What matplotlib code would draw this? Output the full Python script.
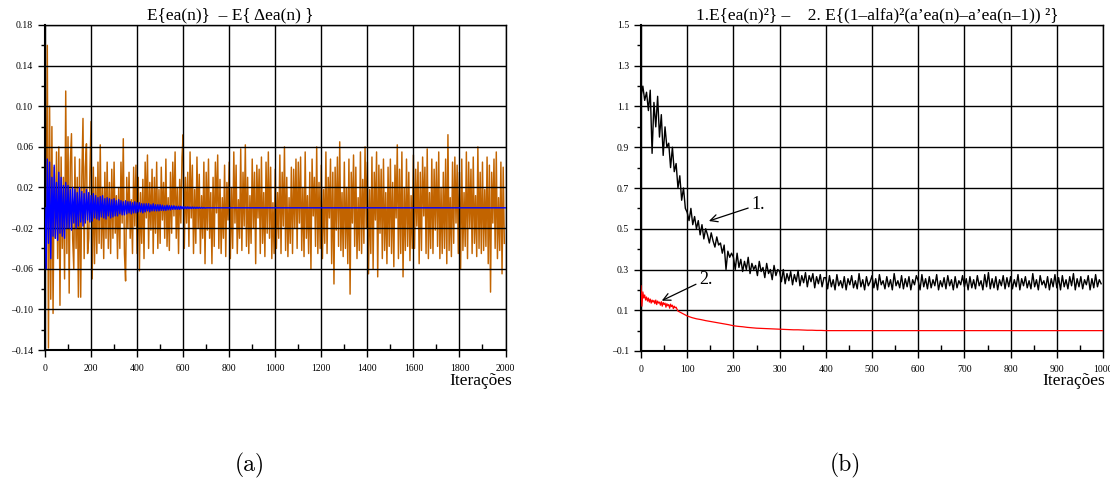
import numpy as np
import matplotlib
matplotlib.use("Agg")
import matplotlib.pyplot as plt
from matplotlib.ticker import MultipleLocator, FuncFormatter

# ---------------- data ----------------
# (a) E{Δea(n)}: one sample every 5 iterations, values in units of 1e-3
delta_step = 5
delta_ea = [
    150, -60, 160, -138, 100, -90, 80, -104, 40, -30, 55, -50, 60, -96, 50, -40, 30, -70, 115, -45,
    70, -84, 45, 73, -30, -60, 50, -40, 30, -88, 48, -88, 30, 88, -50, 40, 63, -45, -30, 35,
    85, -70, 40, -55, 30, -45, 45, -35, 62, -40, 20, -50, 35, -30, 45, -40, 25, -45, 38, -30,
    45, -25, 12, -50, 20, -40, 45, -15, 68, -45, -72, 30, -20, 35, -30, 8, -45, 40, -18, 42,
    -45, 30, -62, 15, -35, 28, -50, 45, -10, 52, -40, 25, -22, 38, -45, 30, -25, 45, -40, 18,
    -35, 40, -12, 25, -30, 48, -38, 10, -42, 35, -25, 45, -8, 55, -30, 20, -45, 28, -15, 50,
    72, -40, 30, -15, 35, -38, 55, -10, 42, -45, 18, -35, 50, -20, 33, -45, 12, -30, 45, -55,
    35, -22, 48, -30, 15, -55, 30, -38, 45, -5, 52, -40, 28, -45, 10, -30, 42, -48, 25, -12,
    45, -50, 20, -40, 55, -15, 42, -45, 8, -30, 58, -42, 35, -18, 62, -38, 30, -45, 12, -35,
    48, -20, 35, -55, 42, -10, 38, -45, 50, -35, 15, -48, 45, -25, 55, -30, 40, -50, 5, -45,
    38, -40, 15, -30, 52, -45, 35, -18, 60, -42, 30, -48, 10, -35, 40, -45, 38, -20, 48, -40,
    45, -15, 50, -42, 20, -48, 55, -30, 12, -45, 35, -60, 48, -8, 30, -38, 60, -45, 25, -40,
    42, -50, 18, -35, 55, -45, 30, -10, 48, -55, 35, -75, 40, -22, 50, -38, 65, -42, 15, -48,
    45, -40, 20, -55, 48, -85, 35, -15, 52, -38, 40, -50, 10, -42, 55, -45, 28, -35, 60, -20,
    45, -65, 18, -45, 50, -60, 35, -12, 55, -68, 42, -25, 38, -50, 48, -42, 15, -55, 40, -38,
    48, -45, 25, -58, 42, -10, 62, -50, 38, -45, 55, -68, 20, -42, 48, -38, 35, -52, 12, -40,
    52, -40, 38, -18, 45, -55, 35, -42, 50, -8, 40, -45, 58, -50, 15, -40, 48, -45, 38, -22,
    45, -38, 55, -50, 20, -45, 35, -40, 48, -55, 72, -42, 10, -48, 45, -35, 50, -15, 42, -45,
    35, -60, 48, -42, 15, -38, 55, -50, 45, -20, 38, -45, 50, -35, 12, -48, 60, -40, 35, -45,
    45, -42, 18, -38, 50, -55, 42, -83, 35, -15, 48, -40, 55, -50, 10, -42, 45, -65, 40, -35,
]

# (a) E{ea(n)}: transient every 5 iterations (units of 1e-3), then settled value
ea_step = 5
ea_transient = [
    0, -60, 48, -35, 45, -50, 30, -28, 42, -30, 25, -32, 35, -25, 30, -28, 22, -30, 25, -20,
    22, -20, 18, -22, 20, -15, 18, -20, 15, -18, 20, -14, 16, -18, 14, -15, 18, -12, 15, -14,
    12, -13, 14, -10, 12, -11, 10, -12, 11, -9, 12, -10, 9, -11, 10, -8, 9, -10, 8, -9,
    9, -8, 7, -8, 8, -6, 7, -7, 6, -7, 7, -6, 6, -5, 6, -6, 5, -5, 6, -5,
    5, -4, 5, -4, 4, -5, 4, -4, 4, -3, 4, -4, 3, -3, 4, -3, 3, -3, 3, -3,
    3, -2.5, 2.5, -2.5, 2, -2.5, 2.5, -2, 2, -2, 2, -1.5, 2, -1.5, 1.5, -1.5, 1.5, -1.5, 1.5, -1,
    1.2, -1, 1, -1, 1, -0.8, 0.8, -0.8, 0.8, -0.6, 0.6, -0.6, 0.6, -0.5, 0.5, -0.4, 0.4, -0.4, 0.3, -0.3,
]
ea_tail_n = [700, 2000]
ea_tail = [0.0, 0.0]

# (b) curve 1: E{ea(n)^2}, one sample every 4 iterations (units of 1e-3)
mse_step = 4
mse_ea = [
    1150, 1200, 1130, 1170, 1080, 1180, 870, 1120, 1000, 1150, 950, 1060, 860, 1000, 900, 920, 800, 900, 780, 820, 700, 760, 640, 700, 600,
    580, 540, 600, 520, 560, 500, 540, 470, 520, 450, 500, 470, 430, 480, 440, 410, 460, 420, 430, 380, 420, 300, 390, 360, 380,
    360, 300, 380, 310, 350, 290, 340, 300, 360, 280, 330, 300, 320, 270, 340, 290, 310, 260, 330, 280, 300, 250, 320, 270, 300,
    290, 240, 300, 230, 280, 245, 290, 225, 275, 240, 295, 220, 270, 235, 285, 215, 270, 240, 280, 210, 265, 230, 275, 215, 260,
    260, 205, 270, 215, 250, 200, 275, 220, 245, 210, 265, 200, 255, 225, 270, 210, 245, 205, 280, 215, 250, 200, 265, 220, 240,
    270, 210, 255, 200, 275, 225, 245, 205, 265, 215, 250, 200, 280, 220, 245, 210, 270, 205, 255, 215, 265, 200, 250, 225, 270,
    245, 200, 275, 215, 255, 205, 265, 210, 250, 220, 275, 200, 245, 215, 260, 205, 270, 220, 250, 200, 265, 210, 245, 225, 270,
    215, 255, 200, 265, 210, 250, 205, 270, 220, 245, 200, 275, 215, 285, 205, 255, 210, 265, 200, 250, 220, 270, 205, 260, 215,
    265, 205, 250, 215, 275, 200, 255, 220, 265, 210, 245, 205, 280, 215, 250, 200, 270, 225, 245, 210, 265, 200, 255, 215, 275,
    210, 260, 200, 270, 215, 250, 205, 265, 220, 280, 200, 255, 215, 265, 205, 250, 225, 270, 200, 255, 210, 275, 215, 250, 230,
]

# (b) curve 2: E{(1-alfa)^2 (a'ea(n) - a'ea(n-1))^2}  (units of 1e-3)
diff_early_n = list(range(0, 80, 2))
diff_early = [
    220, 120, 190, 160, 175, 150, 165, 145, 160, 140, 155, 135, 150, 140, 148, 132, 150, 128, 145, 135,
    140, 125, 142, 120, 138, 128, 135, 115, 132, 122, 128, 110, 130, 118, 125, 108, 120, 112, 115, 105,
]
diff_late_n = list(range(80, 400, 10)) + [400, 1000]
diff_late = [
    96, 84, 72, 64, 58, 54, 49, 45, 41, 37, 33, 29, 24, 21, 19, 16,
    14, 12, 11, 10, 9, 8, 7, 6, 5, 4, 4, 3, 2, 2, 1, 1, 0, 0,
]

ylim_a, yticks_a = (-0.14, 0.18), [-0.14, -0.10, -0.06, -0.02, 0.02, 0.06, 0.10, 0.14, 0.18]
ylim_b, yticks_b = (-0.1, 1.5), [-0.1, 0.1, 0.3, 0.5, 0.7, 0.9, 1.1, 1.3, 1.5]

# ---------------- figure ----------------
plt.rcParams["font.family"] = ["Liberation Serif", "DejaVu Serif"]
fig = plt.figure(figsize=(11.10, 4.82), dpi=100)
ax_a = fig.add_axes([45 / 1110, 1 - 350 / 482, 460.5 / 1110, 325 / 482])
ax_b = fig.add_axes([641 / 1110, 1 - 351 / 482, 462 / 1110, 326 / 482])

ORANGE = "#c26400"


def dash_minus(fmt):
    return FuncFormatter(lambda v, p: (fmt % v).replace("-", "\u2013"))


def style(ax, xlim, xmajor, ylim, yticks, fmt):
    ax.set_xlim(*xlim)
    ax.set_ylim(*ylim)
    ax.xaxis.set_major_locator(MultipleLocator(xmajor))
    ax.xaxis.set_minor_locator(MultipleLocator(xmajor / 2))
    ax.set_yticks(yticks)
    ax.yaxis.set_minor_locator(MultipleLocator((yticks[1] - yticks[0]) / 2))
    ax.yaxis.set_major_formatter(dash_minus(fmt))
    ax.grid(True, which="major", color="black", linewidth=1.0)
    ax.tick_params(which="major", direction="out", length=5, width=1, labelsize=7,
                   top=False, right=False)
    ax.tick_params(axis="x", which="major", pad=5)
    ax.tick_params(axis="x", which="minor", direction="in", length=4, width=1,
                   top=False, bottom=True)
    ax.tick_params(axis="y", which="minor", direction="out", length=3, width=1,
                   left=True, right=False)
    for s in ax.spines.values():
        s.set_linewidth(1.0)
        s.set_color("black")
    ax.spines["left"].set_linewidth(1.5)
    ax.spines["bottom"].set_linewidth(1.5)
    ax.set_axisbelow(False)


# (a)
n_delta = np.arange(len(delta_ea)) * delta_step
ax_a.plot(n_delta, np.array(delta_ea) * 1e-3, color=ORANGE, linewidth=1.05, zorder=2)
n_ea = np.concatenate([np.arange(len(ea_transient)) * ea_step, ea_tail_n])
v_ea = np.concatenate([np.array(ea_transient) * 1e-3, ea_tail])
ax_a.plot(n_ea, v_ea, color="#0000ff", linewidth=1.0, zorder=3)
style(ax_a, (0, 2000), 200, ylim_a, yticks_a, "%.2f")
ax_a.text((230 - 45) / 460.5, 1 + 10 / 325, "E{ea(n)}  \u2013 E{ \u0394ea(n) }",
          transform=ax_a.transAxes, ha="center", va="center", fontsize=12.5)
ax_a.text((512 - 45) / 460.5, -31 / 325, "Itera\u00e7\u00f5es", transform=ax_a.transAxes,
          ha="right", va="center", fontsize=12.5)

# (b)
n_mse = np.arange(len(mse_ea)) * mse_step
ax_b.plot(n_mse, np.array(mse_ea) * 1e-3, color="black", linewidth=1.0, zorder=3)
n_diff = np.concatenate([diff_early_n, diff_late_n])
v_diff = np.concatenate([diff_early, diff_late]) * 1e-3
ax_b.plot(n_diff, v_diff, color="#ff0000", linewidth=0.9, zorder=3)
style(ax_b, (0, 1000), 100, ylim_b, yticks_b, "%.1f")
ax_b.text((877 - 641) / 462, 1 + 10 / 326,
          "1.E{ea(n)\u00b2} \u2013    2. E{(1\u2013alfa)\u00b2(a\u2019ea(n)\u2013a\u2019ea(n\u20131)) \u00b2}",
          transform=ax_b.transAxes, ha="center", va="center", fontsize=12.5)
ax_b.text((1105 - 641) / 462, -30 / 326, "Itera\u00e7\u00f5es", transform=ax_b.transAxes,
          ha="right", va="center", fontsize=12.5)

arrow = dict(arrowstyle="->", color="black", linewidth=0.9, shrinkA=0, shrinkB=0)
ax_b.annotate("1.", xy=(147, 0.538), xytext=(238, 0.617), fontsize=13,
              ha="left", va="center", arrowprops=arrow)
ax_b.annotate("2.", xy=(45, 0.147), xytext=(125, 0.25), fontsize=13,
              ha="left", va="center", arrowprops=arrow)

# panel labels
fig.text(250 / 1110, 1 - 465 / 482, "(a)", fontsize=17, family="cmr10", ha="center", va="center")
fig.text(845 / 1110, 1 - 465 / 482, "(b)", fontsize=17, family="cmr10", ha="center", va="center")

fig.savefig("out.png", dpi=100)
